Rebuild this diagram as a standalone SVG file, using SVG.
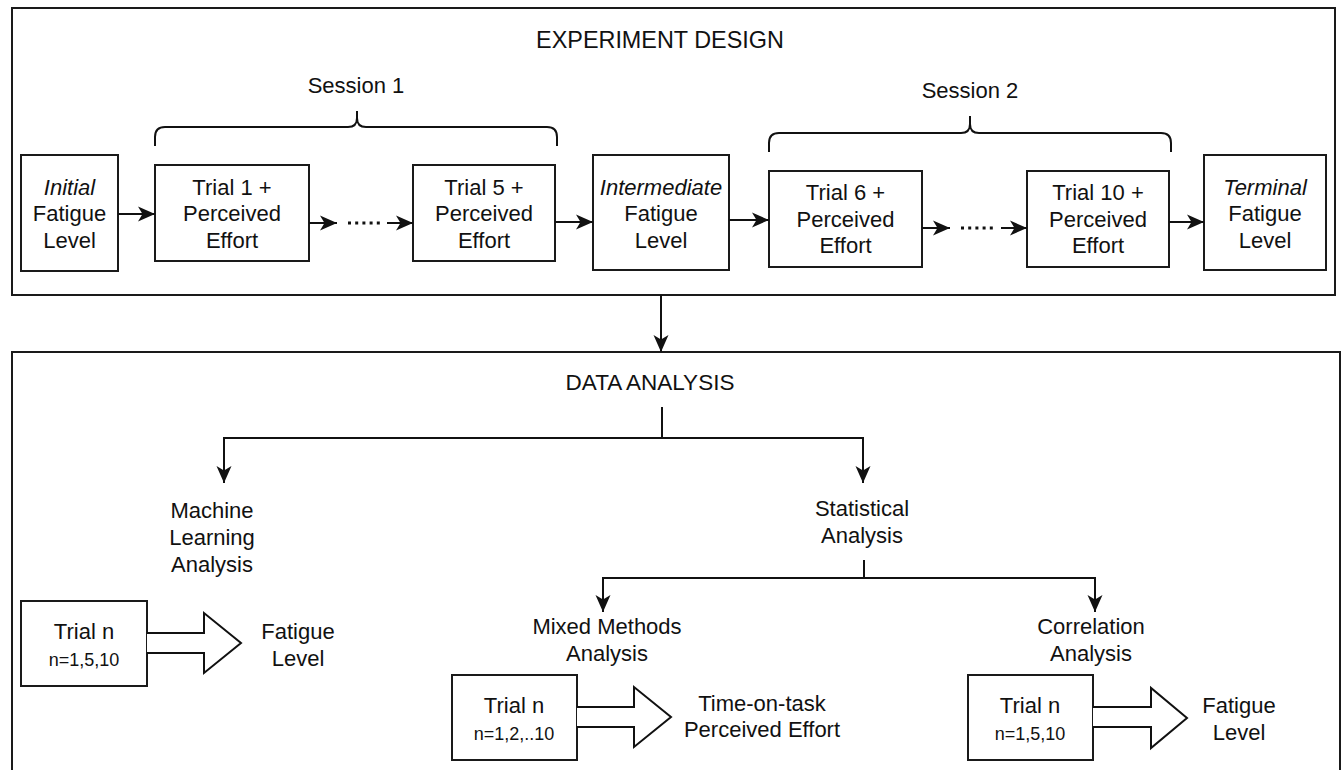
<svg xmlns="http://www.w3.org/2000/svg" width="1341" height="770" viewBox="0 0 1341 770">
  <style>
    .frame { fill: none; stroke: #1a1a1a; stroke-width: 2; }
    .box { fill: #ffffff; stroke: #1a1a1a; stroke-width: 2; }
    .line { fill: none; stroke: #111111; stroke-width: 2; }
    .dots { fill: none; stroke: #111111; stroke-width: 3; stroke-dasharray: 3 4.2; }
    .brace { fill: none; stroke: #111111; stroke-width: 2; }
    .fat { fill: #ffffff; stroke: #111111; stroke-width: 2; stroke-linejoin: miter; }
    text { font-family: "Liberation Sans", Arial, sans-serif; fill: #111111; text-anchor: middle; }
    .t { font-size: 22px; }
    .title { font-size: 23.4px; }
    .sub { font-size: 22.5px; }
    .small { font-size: 18px; }
    .it { font-style: italic; }
  </style>
  <defs>
    <marker id="arrow" markerUnits="userSpaceOnUse" markerWidth="18" markerHeight="16" refX="17" refY="8" orient="auto">
      <path d="M0,0.5 L17,8 L0,15.5 L4.5,8 Z" fill="#111111"/>
    </marker>
  </defs>

  <rect width="1341" height="770" fill="#ffffff"/>

  <!-- Section frames -->
  <g id="experiment-design">
    <rect class="frame" x="12" y="8" width="1323" height="287"/>
    <text class="title" x="660" y="48">EXPERIMENT DESIGN</text>
  </g>
  <g id="data-analysis">
    <rect class="frame" x="12" y="352" width="1328" height="430"/>
    <text class="sub" x="650" y="390">DATA ANALYSIS</text>
  </g>

  <!-- Session braces -->
  <g id="session-1">
    <path class="brace" d="M155,146 V137 Q155,127 165,127 H348 Q357,127 357,118 V111 M357,118 Q357,127 366,127 H547 Q557,127 557,137 V146"/>
    <text class="t" x="356" y="93">Session 1</text>
  </g>
  <g id="session-2">
    <path class="brace" d="M769,152 V143 Q769,133 779,133 H961 Q970,133 970,124 V116 M970,124 Q970,133 979,133 H1161 Q1171,133 1171,143 V152"/>
    <text class="t" x="970" y="98">Session 2</text>
  </g>

  <!-- Experiment design nodes -->
  <g id="initial-fatigue">
    <rect class="box" x="21" y="155" width="97" height="116"/>
    <text class="t" x="69.5" y="195"><tspan class="it">Initial</tspan></text>
    <text class="t" x="69.5" y="221">Fatigue</text>
    <text class="t" x="69.5" y="248">Level</text>
  </g>
  <g id="trial-1">
    <rect class="box" x="155" y="165" width="154" height="96"/>
    <text class="t" x="232" y="195">Trial 1 +</text>
    <text class="t" x="232" y="221">Perceived</text>
    <text class="t" x="232" y="248">Effort</text>
  </g>
  <g id="trial-5">
    <rect class="box" x="413" y="165" width="142" height="96"/>
    <text class="t" x="484" y="195">Trial 5 +</text>
    <text class="t" x="484" y="221">Perceived</text>
    <text class="t" x="484" y="248">Effort</text>
  </g>
  <g id="intermediate-fatigue">
    <rect class="box" x="593" y="155" width="136" height="115"/>
    <text class="t" x="661" y="195"><tspan class="it">Intermediate</tspan></text>
    <text class="t" x="661" y="221">Fatigue</text>
    <text class="t" x="661" y="248">Level</text>
  </g>
  <g id="trial-6">
    <rect class="box" x="769" y="171" width="153" height="96"/>
    <text class="t" x="845.5" y="200">Trial 6 +</text>
    <text class="t" x="845.5" y="227">Perceived</text>
    <text class="t" x="845.5" y="253">Effort</text>
  </g>
  <g id="trial-10">
    <rect class="box" x="1027" y="171" width="142" height="96"/>
    <text class="t" x="1098" y="200">Trial 10 +</text>
    <text class="t" x="1098" y="227">Perceived</text>
    <text class="t" x="1098" y="253">Effort</text>
  </g>
  <g id="terminal-fatigue">
    <rect class="box" x="1204" y="155" width="122" height="115"/>
    <text class="t" x="1265" y="195"><tspan class="it">Terminal</tspan></text>
    <text class="t" x="1265" y="221">Fatigue</text>
    <text class="t" x="1265" y="248">Level</text>
  </g>

  <!-- Data analysis labels -->
  <g id="machine-learning">
    <text class="t" x="212" y="518">Machine</text>
    <text class="t" x="212" y="545">Learning</text>
    <text class="t" x="212" y="572">Analysis</text>
  </g>
  <g id="statistical">
    <text class="t" x="862" y="516">Statistical</text>
    <text class="t" x="862" y="543">Analysis</text>
  </g>
  <g id="mixed-methods">
    <text class="t" x="607" y="634">Mixed Methods</text>
    <text class="t" x="607" y="661">Analysis</text>
  </g>
  <g id="correlation">
    <text class="t" x="1091" y="634">Correlation</text>
    <text class="t" x="1091" y="661">Analysis</text>
  </g>

  <!-- Analysis inputs and outputs -->
  <g id="ml-trial">
    <rect class="box" x="21" y="601" width="126" height="85"/>
    <text class="t" x="84" y="639">Trial n</text>
    <text class="small" x="84" y="666">n=1,5,10</text>
  </g>
  <g id="ml-output">
    <text class="t" x="298" y="639">Fatigue</text>
    <text class="t" x="298" y="666">Level</text>
  </g>
  <g id="mm-trial">
    <rect class="box" x="452" y="675" width="125" height="85"/>
    <text class="t" x="514" y="713">Trial n</text>
    <text class="small" x="514" y="740">n=1,2,..10</text>
  </g>
  <g id="mm-output">
    <text class="t" x="762" y="711">Time-on-task</text>
    <text class="t" x="762" y="737">Perceived Effort</text>
  </g>
  <g id="corr-trial">
    <rect class="box" x="968" y="675" width="125" height="85"/>
    <text class="t" x="1030" y="713">Trial n</text>
    <text class="small" x="1030" y="740">n=1,5,10</text>
  </g>
  <g id="corr-output">
    <text class="t" x="1239" y="713">Fatigue</text>
    <text class="t" x="1239" y="740">Level</text>
  </g>

  <!-- Connectors -->
  <g id="connectors">
    <line class="line" x1="118" y1="214" x2="155" y2="214" marker-end="url(#arrow)"/>
    <line class="line" x1="309" y1="223" x2="337" y2="223" marker-end="url(#arrow)"/>
    <line class="dots" x1="348" y1="223" x2="384" y2="223"/>
    <line class="line" x1="387" y1="223" x2="413" y2="223" marker-end="url(#arrow)"/>
    <line class="line" x1="555" y1="222" x2="593" y2="222" marker-end="url(#arrow)"/>
    <line class="line" x1="729" y1="220" x2="769" y2="220" marker-end="url(#arrow)"/>
    <line class="line" x1="922" y1="228" x2="950" y2="228" marker-end="url(#arrow)"/>
    <line class="dots" x1="961" y1="228" x2="996" y2="228"/>
    <line class="line" x1="1001" y1="228" x2="1027" y2="228" marker-end="url(#arrow)"/>
    <line class="line" x1="1169" y1="222" x2="1204" y2="222" marker-end="url(#arrow)"/>

    <line class="line" x1="661" y1="295" x2="661" y2="352" marker-end="url(#arrow)"/>

    <line class="line" x1="662" y1="407" x2="662" y2="438"/>
    <path class="line" d="M224,483 V438 H863 V483" marker-end="url(#arrow)"/>
    <line class="line" x1="224" y1="438" x2="224" y2="483" marker-end="url(#arrow)"/>

    <line class="line" x1="864" y1="560" x2="864" y2="578"/>
    <path class="line" d="M603,612 V578 H1095 V612" marker-end="url(#arrow)"/>
    <line class="line" x1="603" y1="578" x2="603" y2="612" marker-end="url(#arrow)"/>

    <path class="fat" d="M147,633 H204 V613 L241,643 L204,673 V653 H147"/>
    <path class="fat" d="M577,707 H634 V687 L671,717 L634,747 V727 H577"/>
    <path class="fat" d="M1093,707 H1151 V688 L1187,718 L1151,748 V727 H1093"/>
  </g>
</svg>
